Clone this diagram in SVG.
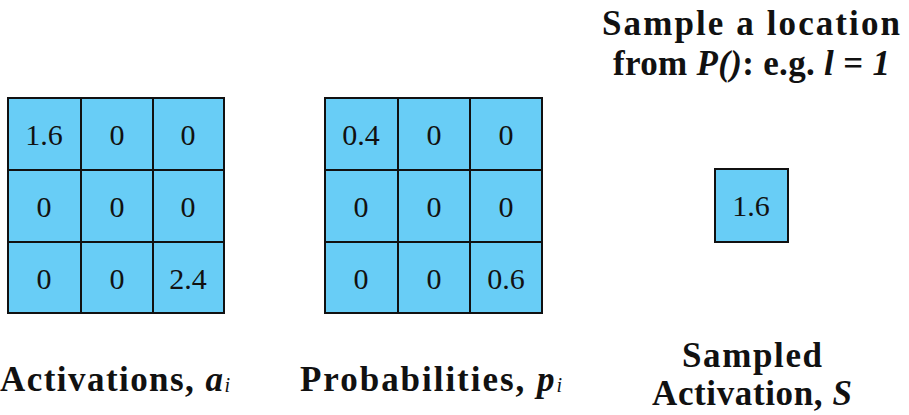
<svg xmlns="http://www.w3.org/2000/svg" width="909" height="415" viewBox="0 0 909 415">
<style>
.cell{fill:#68CDF6;stroke:#111;stroke-width:2}
.num{font-family:"Liberation Serif",serif;font-size:30px;fill:#111;text-anchor:middle}
.lbl{font-family:"Liberation Serif",serif;font-size:35px;font-weight:bold;fill:#111}
.it{font-style:italic}
.sub{font-size:20px;font-style:italic;font-weight:normal}
</style>
<rect width="909" height="415" fill="#fff"/>
<g id="activations">
<rect class="cell" x="8" y="98" width="73" height="72"/>
<rect class="cell" x="81" y="98" width="72" height="72"/>
<rect class="cell" x="153" y="98" width="71" height="72"/>
<rect class="cell" x="8" y="170" width="73" height="72"/>
<rect class="cell" x="81" y="170" width="72" height="72"/>
<rect class="cell" x="153" y="170" width="71" height="72"/>
<rect class="cell" x="8" y="242" width="73" height="71"/>
<rect class="cell" x="81" y="242" width="72" height="71"/>
<rect class="cell" x="153" y="242" width="71" height="71"/>
<text class="num" x="44" y="145">1.6</text>
<text class="num" x="117" y="145">0</text>
<text class="num" x="188" y="145">0</text>
<text class="num" x="44" y="217">0</text>
<text class="num" x="117" y="217">0</text>
<text class="num" x="188" y="217">0</text>
<text class="num" x="44" y="289">0</text>
<text class="num" x="117" y="289">0</text>
<text class="num" x="188" y="289">2.4</text>
</g>
<g id="probabilities">
<rect class="cell" x="325" y="98" width="73" height="72"/>
<rect class="cell" x="398" y="98" width="72" height="72"/>
<rect class="cell" x="470" y="98" width="72" height="72"/>
<rect class="cell" x="325" y="170" width="73" height="72"/>
<rect class="cell" x="398" y="170" width="72" height="72"/>
<rect class="cell" x="470" y="170" width="72" height="72"/>
<rect class="cell" x="325" y="242" width="73" height="71"/>
<rect class="cell" x="398" y="242" width="72" height="71"/>
<rect class="cell" x="470" y="242" width="72" height="71"/>
<text class="num" x="361" y="145">0.4</text>
<text class="num" x="434" y="145">0</text>
<text class="num" x="506" y="145">0</text>
<text class="num" x="361" y="217">0</text>
<text class="num" x="434" y="217">0</text>
<text class="num" x="506" y="217">0</text>
<text class="num" x="361" y="289">0</text>
<text class="num" x="434" y="289">0</text>
<text class="num" x="506" y="289">0.6</text>
</g>
<g id="sampled">
<rect class="cell" x="715" y="169" width="73" height="73"/>
<text class="num" x="751" y="216">1.6</text>
</g>
<g id="labels">
<text class="lbl" x="602" y="35" textLength="298" lengthAdjust="spacing">Sample a location</text>
<text class="lbl" x="613" y="75" textLength="277" lengthAdjust="spacing">from <tspan class="it">P()</tspan>: e.g. <tspan class="it">l</tspan> = <tspan class="it">1</tspan></text>
<text class="lbl" x="0" y="391" textLength="230" lengthAdjust="spacing">Activations, <tspan class="it">a</tspan><tspan class="sub" dy="1">i</tspan></text>
<text class="lbl" x="300" y="391" textLength="262" lengthAdjust="spacing">Probabilities, <tspan class="it">p</tspan><tspan class="sub" dy="1">i</tspan></text>
<text class="lbl" x="752" y="367" text-anchor="middle" textLength="140" lengthAdjust="spacing">Sampled</text>
<text class="lbl" x="752" y="405" text-anchor="middle" textLength="200" lengthAdjust="spacing">Activation, <tspan class="it">S</tspan></text>
</g>
</svg>
